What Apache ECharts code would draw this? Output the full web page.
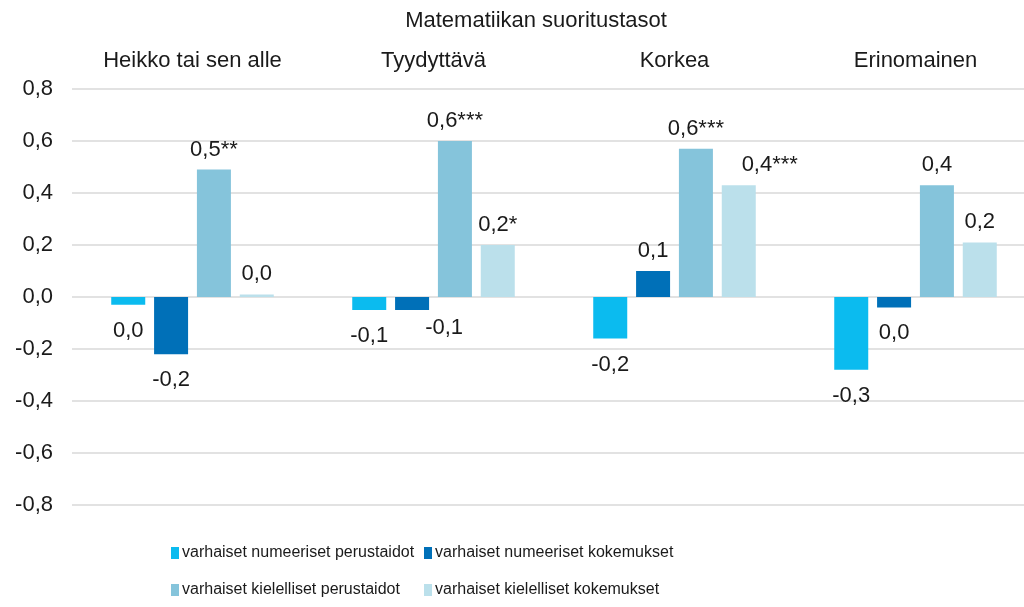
<!DOCTYPE html>
<html>
<head>
<meta charset="utf-8">
<script src="https://cdn.jsdelivr.net/npm/echarts@6/dist/echarts.min.js"></script>
<style>
  html, body { margin: 0; padding: 0; background: #fff; }
  #chart { width: 1024px; height: 607px; }
</style>
</head>
<body>
<div id="chart"></div>
<script>
const categories = ['Heikko tai sen alle', 'Tyydyttävä', 'Korkea', 'Erinomainen'];
const seriesNames = [
  'varhaiset numeeriset perustaidot',
  'varhaiset numeeriset kokemukset',
  'varhaiset kielelliset perustaidot',
  'varhaiset kielelliset kokemukset'
];
const numPerus = [-0.03, -0.05, -0.16, -0.28];
const numKoke = [-0.22, -0.05, 0.10, -0.04];
const kielPerus = [0.49, 0.60, 0.57, 0.43];
const kielKoke = [0.01, 0.20, 0.43, 0.21];
// labels shown above/below bars (with significance stars)
const numPerusLabels = ['0,0', '-0,1', '-0,2', '-0,3'];
const numKokeLabels = ['-0,2', '-0,1', '0,1', '0,0'];
const kielPerusLabels = ['0,5**', '0,6***', '0,6***', '0,4'];
const kielKokeLabels = ['0,0', '0,2*', '0,4***', '0,2'];
const yTicks = [-0.8, 0.8, 0.2]; // min, max, interval

const colors = ['#0BBBEF', '#0070B8', '#85C4DB', '#BBE0EB'];
const FONT = "'Liberation Sans', Arial, sans-serif";
const TXT = '#1a1a1a';

// a couple of labels were moved aside in the original so they don't collide
const labelNudge = { '1-1': [32, -8], '3-2': [31, 0] };

const chart = echarts.init(document.getElementById('chart'));

const allValues = [numPerus, numKoke, kielPerus, kielKoke];
const allLabels = [numPerusLabels, numKokeLabels, kielPerusLabels, kielKokeLabels];

const series = allValues.map((vals, i) => ({
  name: seriesNames[i],
  type: 'bar',
  barWidth: 34,
  barGap: '26%',
  itemStyle: { color: colors[i] },
  data: vals.map((v, j) => ({
    value: v,
    label: {
      show: true,
      position: v >= 0 ? 'top' : 'bottom',
      distance: v >= 0 ? 9 : 15,
      offset: labelNudge[i + '-' + j] || [0, 0],
      formatter: allLabels[i][j],
      fontSize: 22,
      fontFamily: FONT,
      color: TXT
    }
  }))
}));

const legendPos = [
  { left: 171, top: 545 },
  { left: 424, top: 545 },
  { left: 171, top: 582 },
  { left: 424, top: 582 }
];
const legend = seriesNames.map((name, i) => ({
  data: [name],
  left: legendPos[i].left,
  top: legendPos[i].top,
  padding: 0,
  icon: 'rect',
  itemWidth: 8,
  itemHeight: 12,
  itemGap: 0,
  selectedMode: false,
  textStyle: {
    fontSize: 16,
    fontFamily: FONT,
    color: TXT,
    padding: [0, 0, 0, -2]
  }
}));

const option = {
  animation: false,
  color: colors,
  title: {
    text: 'Matematiikan suoritustasot',
    left: 531,
    top: 5,
    textAlign: 'center',
    textStyle: { fontSize: 22, fontWeight: 'normal', fontFamily: FONT, color: TXT }
  },
  legend: legend,
  grid: { left: 72, top: 89, width: 964, height: 416, outerBoundsMode: 'none' },
  xAxis: {
    type: 'category',
    position: 'top',
    data: categories,
    axisLine: { show: false },
    axisTick: { show: false },
    axisLabel: { margin: 17, fontSize: 22, fontFamily: FONT, color: TXT, interval: 0 }
  },
  yAxis: {
    type: 'value',
    min: yTicks[0],
    max: yTicks[1],
    interval: yTicks[2],
    axisLine: { show: false },
    axisTick: { show: false },
    axisLabel: {
      margin: 19,
      fontSize: 22,
      fontFamily: FONT,
      color: TXT,
      formatter: v => v.toFixed(1).replace('.', ',')
    },
    splitLine: { lineStyle: { color: '#D9D9D9', width: 1.5 } }
  },
  series: series
};

chart.setOption(option);
</script>
</body>
</html>
